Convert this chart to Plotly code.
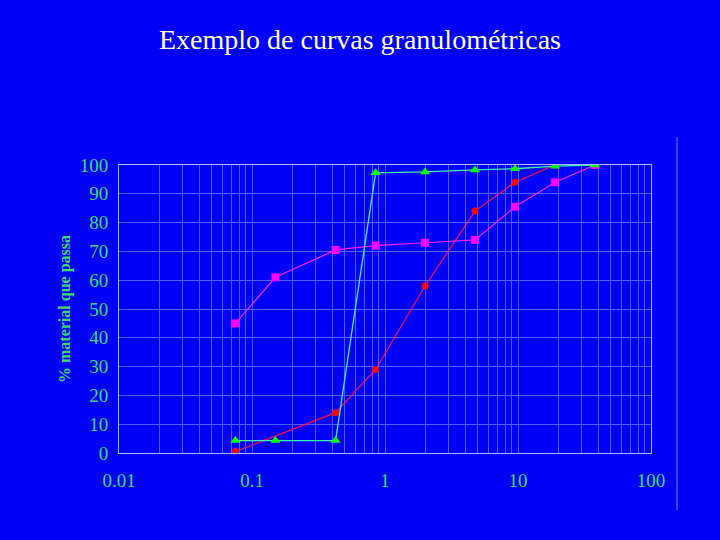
import plotly.graph_objects as go

# Sieve openings (mm) and % passing
sizes_red = [0.075, 0.425, 0.85, 2.0, 4.75, 9.5, 19]
pass_red = [0.5, 14, 29, 58, 84, 94, 100]

sizes_pink = [0.075, 0.15, 0.425, 0.85, 2.0, 4.75, 9.5, 19, 38]
pass_pink = [45, 61, 70.5, 72, 73, 74, 85.5, 94, 100]

sizes_green = [0.075, 0.15, 0.425, 0.85, 2.0, 4.75, 9.5, 19, 38]
pass_green = [4.3, 4.3, 4.3, 97.3, 97.6, 98.3, 98.7, 99.6, 100]

x_tickvals = [0.01, 0.1, 1, 10, 100]
x_ticktext = ["0.01", "0.1", "1", "10", "100"]
minor_mult = [2, 3, 4, 5, 6, 7, 8, 9]
decades = [0.01, 0.1, 1, 10]

title_text = "Exemplo de curvas granulométricas"
ytitle = "% material que passa"

BG = "#0000f8"
GRID = "#4c60ff"
TICKC = "#3ddc6a"
SERIF = "Liberation Serif, Times New Roman, serif"

fig = go.Figure()
fig.add_trace(go.Scatter(x=sizes_pink, y=pass_pink, mode="lines+markers",
                         line=dict(color="#ff22ff", width=1.2),
                         marker=dict(symbol="square", size=8, color="#ff00ff"),
                         showlegend=False))
fig.add_trace(go.Scatter(x=sizes_red, y=pass_red, mode="lines+markers",
                         line=dict(color="#ff1040", width=1.2),
                         marker=dict(symbol="circle", size=7, color="#ff0000"),
                         showlegend=False))
fig.add_trace(go.Scatter(x=sizes_green, y=pass_green, mode="lines+markers",
                         line=dict(color="#40f0b0", width=1.3),
                         marker=dict(symbol="triangle-up", size=9, color="#00ff00"),
                         showlegend=False))

minor_vals = [d * m for d in decades for m in minor_mult]

fig.update_layout(
    width=720, height=540,
    paper_bgcolor=BG, plot_bgcolor=BG,
    margin=dict(l=119, r=69, t=165, b=87),
    title=dict(text=title_text, x=0.5, xanchor="center", y=0.928, yanchor="middle",
               font=dict(family=SERIF, size=28, color="#ffffc8")),
    xaxis=dict(type="log", range=[-2, 2], tickvals=x_tickvals, ticktext=x_ticktext,
               showgrid=True, gridcolor=GRID, gridwidth=1,
               minor=dict(tickvals=minor_vals, showgrid=True, gridcolor=GRID, gridwidth=1),
               showline=True, linecolor="#b0b8ff", linewidth=1, mirror=True,
               ticks="", ticklabelstandoff=10, zeroline=False,
               tickfont=dict(family=SERIF, size=19, color=TICKC)),
    yaxis=dict(range=[0, 100], dtick=10, showgrid=True, gridcolor=GRID, gridwidth=1,
               showline=True, linecolor="#b0b8ff", linewidth=1, mirror=True,
               ticks="", ticklabelstandoff=6, zeroline=False,
               tickfont=dict(family=SERIF, size=19, color=TICKC),
               title=dict(text=ytitle, standoff=5,
                          font=dict(family=SERIF, size=16, color=TICKC, weight="bold"))),
)
fig.add_shape(type="line", xref="paper", yref="paper",
              x0=(677 - 119) / 532, x1=(677 - 119) / 532,
              y0=(453 - 137) / 288, y1=(453 - 510) / 288,
              line=dict(color="#7080ff", width=1))
fig.write_html("out.html", config={"displayModeBar": False},
               post_script="document.body.style.margin='0';document.body.style.background='" + BG + "';")
